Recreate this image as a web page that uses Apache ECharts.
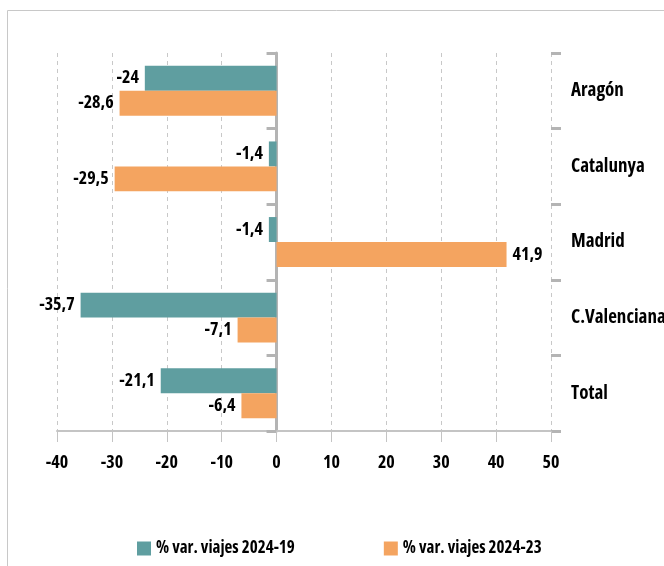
<!DOCTYPE html>
<html>
<head>
<meta charset="utf-8">
<script src="https://cdn.jsdelivr.net/npm/echarts@6/dist/echarts.min.js"></script>
<style>html,body{margin:0;padding:0;background:#fff;}#c{width:664px;height:566px;}</style>
</head>
<body>
<div id="c"></div>
<script>
var categories = ['Aragón', 'Catalunya', 'Madrid', 'C.Valenciana', 'Total'];
var var2024_19 = [-24, -1.4, -1.4, -35.7, -21.1];
var var2024_23 = [-28.6, -29.5, 41.9, -7.1, -6.4];
var seriesNames = ['% var. viajes 2024-19', '% var. viajes 2024-23'];
var xTicks = [-40, -30, -20, -10, 0, 10, 20, 30, 40, 50];

var FONT = "'Open Sans', 'Noto Sans', sans-serif";
var WEIGHT = 'bold condensed';
function fmt(v) { return String(v).replace('.', ','); }
function toData(arr) {
  return arr.map(function (v) {
    return { value: v, label: { position: v < 0 ? 'left' : 'right' } };
  });
}
var labelStyle = {
  show: true, distance: 6, color: '#000', fontFamily: FONT, fontWeight: WEIGHT, fontSize: 18,
  formatter: function (p) { return fmt(p.value); }
};

var chart = echarts.init(document.getElementById('c'), null, { renderer: 'canvas' });
chart.setOption({
  animation: false,
  graphic: [{
    type: 'rect', silent: true, z: -10,
    shape: { x: 7.5, y: 10.5, width: 800, height: 700 },
    style: { fill: 'none', stroke: '#c8c8c8', lineWidth: 1 }
  }],
  grid: { left: 57, right: 113, top: 53, bottom: 135, containLabel: false, outerBoundsMode: 'none' },
  legend: {
    data: seriesNames, left: 137, top: 540, padding: 0, icon: 'rect', itemWidth: 14, itemHeight: 14,
    itemGap: 89,
    textStyle: { fontFamily: FONT, fontWeight: WEIGHT, fontSize: 17, color: '#000' }
  },
  xAxis: {
    type: 'value', min: -40, max: 50, interval: 10,
    axisLine: { show: true, onZero: false, lineStyle: { color: '#c4c4c4', width: 2 } },
    axisTick: { show: true, length: 11, lineStyle: { color: '#c4c4c4', width: 1 } },
    splitLine: { show: true, lineStyle: { color: '#c8c8c8', type: [4, 4], width: 1 } },
    axisLabel: {
      margin: 23, color: '#000', fontFamily: FONT, fontWeight: WEIGHT, fontSize: 18,
      formatter: function (v) { return xTicks.indexOf(v) >= 0 ? fmt(v) : ''; }
    }
  },
  yAxis: [{
    type: 'category', data: categories, inverse: true, position: 'left',
    axisLine: { show: true, onZero: true, lineStyle: { color: '#b4b4b4', width: 3 } },
    axisTick: { show: true, length: 10, lineStyle: { color: '#b4b4b4', width: 3 } },
    axisLabel: { show: false },
    splitLine: { show: false }
  }, {
    type: 'category', data: categories, inverse: true, position: 'right',
    axisLine: { show: false },
    axisTick: { show: true, length: 10, lineStyle: { color: '#b4b4b4', width: 3 } },
    axisLabel: { show: true, margin: 20, color: '#000', fontFamily: FONT, fontWeight: WEIGHT, fontSize: 19, align: 'left' },
    splitLine: { show: false }
  }],
  series: [{
    name: seriesNames[0], type: 'bar', yAxisIndex: 0, data: toData(var2024_19),
    itemStyle: { color: '#5f9ea0' }, barGap: '0%', barCategoryGap: '34%', label: labelStyle
  }, {
    name: seriesNames[1], type: 'bar', yAxisIndex: 0, data: toData(var2024_23),
    itemStyle: { color: '#f4a460' }, barGap: '0%', barCategoryGap: '34%', label: labelStyle
  }]
});
</script>
</body>
</html>
